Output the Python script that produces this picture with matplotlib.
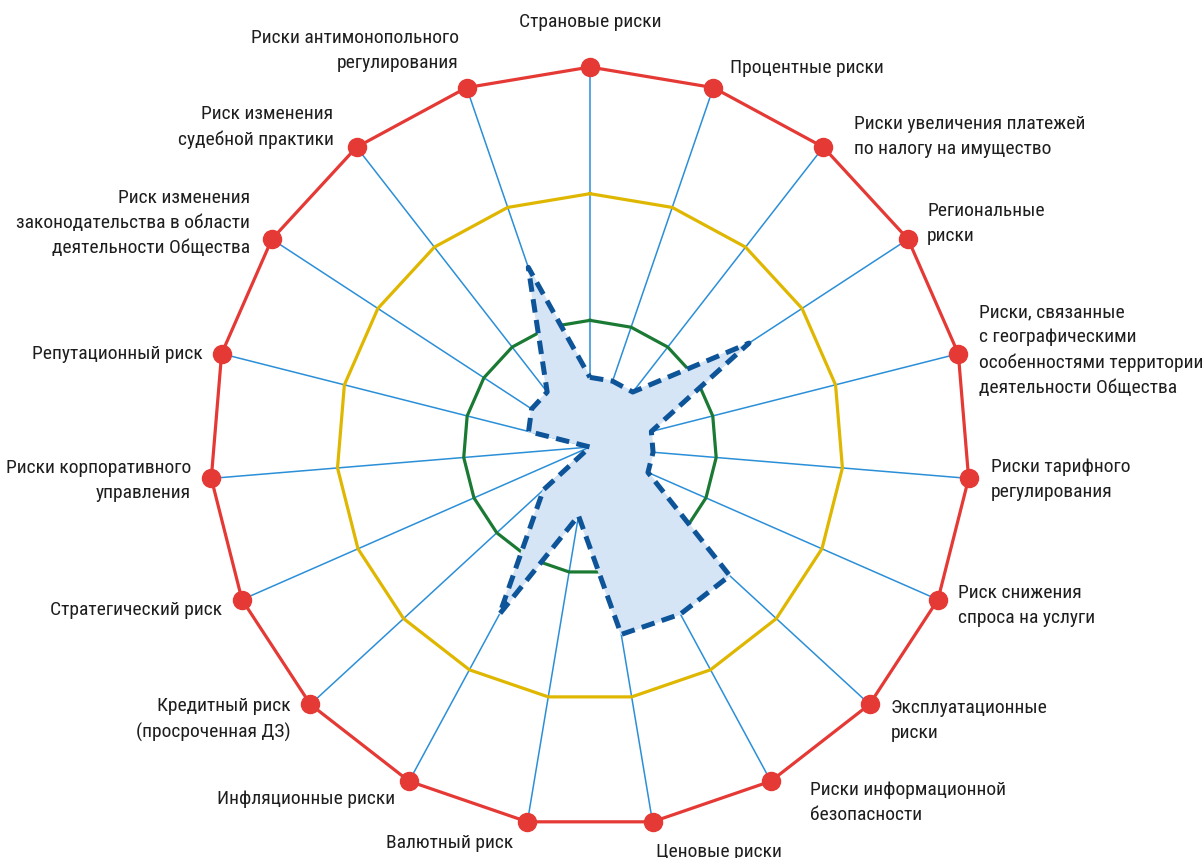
import numpy as np
import matplotlib
matplotlib.use("Agg")
import matplotlib.pyplot as plt
from matplotlib import font_manager as fm

# Узкий шрифт, если есть; иначе Roboto
def has_font(name):
    try:
        fm.findfont(fm.FontProperties(family=name), fallback_to_default=False)
        return True
    except ValueError:
        return False

if has_font('Roboto Condensed'):
    font_name, font_size, line_sp = 'Roboto Condensed', 14.0, 1.5
elif has_font('Liberation Sans Narrow'):
    font_name, font_size, line_sp = 'Liberation Sans Narrow', 14.0, 1.5
else:
    font_name, font_size, line_sp = 'Roboto', 12.6, 1.65
plt.rcParams['font.family'] = [font_name, 'DejaVu Sans']

# Категории (по часовой стрелке, начиная сверху)
categories = [
    "Страновые риски",
    "Процентные риски",
    "Риски увеличения платежей\nпо налогу на имущество",
    "Региональные\nриски",
    "Риски, связанные\nс географическими\nособенностями территории\nдеятельности Общества",
    "Риски тарифного\nрегулирования",
    "Риск снижения\nспроса на услуги",
    "Эксплуатационные\nриски",
    "Риски информационной\nбезопасности",
    "Ценовые риски",
    "Валютный риск",
    "Инфляционные риски",
    "Кредитный риск\n(просроченная ДЗ)",
    "Стратегический риск",
    "Риски корпоративного\nуправления",
    "Репутационный риск",
    "Риск изменения\nзаконодательства в области\nдеятельности Общества",
    "Риск изменения\nсудебной практики",
    "Риски антимонопольного\nрегулирования",
]

# Уровень риска (шкала 0..3)
values = [0.55, 0.55, 0.55, 1.5, 0.5, 0.5, 0.5, 1.5, 1.5, 1.5,
          0.55, 1.5, 0.5, 0.0, 0.0, 0.5, 0.55, 0.55, 1.5]

# Кольца шкалы
levels = [1, 2, 3]
level_colors = ['#1a7a34', '#dfb700', '#e53935']

# Положение подписей относительно вершин (пиксели) и выравнивание
label_offsets = [
    (0, 45, 'center'), (17, 20, 'left'), (31, 11, 'left'), (19, 16, 'left'),
    (21, 4, 'left'), (22, -1, 'left'), (20, -6, 'left'), (21, -16, 'left'),
    (39, -21, 'left'), (3, -30, 'left'), (-14, -21, 'right'), (-14, -18, 'right'),
    (-20, -15, 'right'), (-20, -10, 'right'), (-20, -2, 'right'), (-19, 0, 'right'),
    (-22, 16, 'right'), (-23, 20, 'right'), (-8, 37, 'right'),
]

n = len(categories)
theta = np.linspace(0, 2 * np.pi, n, endpoint=False)
theta_c = np.append(theta, theta[0])

fig = plt.figure(figsize=(12.04, 8.58), dpi=100)
ax = fig.add_axes([0.1744, 0.0361, 0.6312, 0.8858], projection='polar')
ax.set_theta_zero_location('N')
ax.set_theta_direction(-1)
ax.set_rlim(0, 3)
ax.axis('off')

# Лучи
for t in theta:
    ax.plot([t, t], [0, 3], color='#2b8fd8', lw=1.1, zorder=1, clip_on=False)

# Кольца
for lev, col in zip(levels, level_colors):
    ax.plot(theta_c, [lev] * (n + 1), color=col, lw=2.3, zorder=2, clip_on=False)
ax.plot(theta, [3] * n, 'o', color='#e53935', ms=13, zorder=3, clip_on=False)

# Данные
vals_c = values + values[:1]
ax.fill(theta_c, vals_c, color='#d5e5f6', zorder=4)
ax.plot(theta_c, vals_c, color='#0d5499', lw=3.6, dashes=(2.7, 1.5), zorder=5)

# Подписи
for t, lab, (dx, dy, ha) in zip(theta, categories, label_offsets):
    ax.annotate(lab, xy=(t, 3), xytext=(dx, dy), textcoords='offset pixels',
                ha=ha, va='center', multialignment=ha, fontsize=font_size,
                color='#1e1e1e', linespacing=line_sp, annotation_clip=False)

fig.savefig('out.png', dpi=100)
